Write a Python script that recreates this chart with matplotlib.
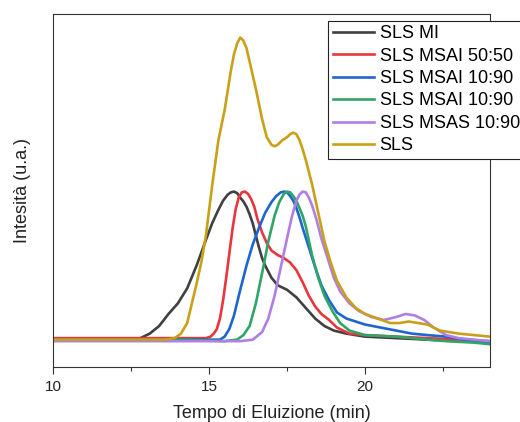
import matplotlib
matplotlib.use('Agg')
import matplotlib.pyplot as plt
from matplotlib.ticker import MultipleLocator, NullLocator

plt.rcParams['font.family'] = ['Liberation Sans', 'DejaVu Sans']

# SLS MI
t_mi = [10, 11, 12, 12.5, 12.8, 13.1, 13.4, 13.7, 14.0, 14.3, 14.6, 14.9, 15.1, 15.3, 15.45, 15.6,
        15.7, 15.8, 15.9, 16.0, 16.1, 16.2, 16.3, 16.4, 16.5, 16.6, 16.7, 16.8, 17.0, 17.2, 17.5,
        17.8, 18.1, 18.4, 18.7, 19.0, 19.4, 20.0, 21, 22, 23, 24]
y_mi = [0.01, 0.01, 0.01, 0.01, 0.02, 0.05, 0.10, 0.18, 0.25, 0.35, 0.50, 0.67, 0.78, 0.87, 0.93, 0.97,
        0.985, 0.99, 0.98, 0.95, 0.925, 0.89, 0.84, 0.78, 0.70, 0.62, 0.55, 0.50, 0.42, 0.37, 0.34,
        0.29, 0.22, 0.15, 0.10, 0.07, 0.05, 0.03, 0.02, 0.01, 0.0, -0.01]

# SLS MSAI 50:50
t_5050 = [10, 11, 12, 13, 14, 14.6, 14.9, 15.05, 15.15, 15.25, 15.35, 15.45, 15.55, 15.65, 15.75,
          15.85, 15.95, 16.05, 16.15, 16.25, 16.35, 16.45, 16.55, 16.7, 16.85, 17.0, 17.2, 17.4, 17.6,
          17.8, 18.0, 18.2, 18.4, 18.6, 18.85, 19.1, 19.5, 20, 21, 22, 23, 24]
y_5050 = [0.02, 0.02, 0.02, 0.02, 0.02, 0.02, 0.02, 0.03, 0.05, 0.08, 0.15, 0.27, 0.42, 0.58, 0.74,
          0.87, 0.95, 0.985, 0.99, 0.975, 0.94, 0.89, 0.81, 0.72, 0.65, 0.60, 0.57, 0.55, 0.52,
          0.47, 0.39, 0.30, 0.23, 0.18, 0.14, 0.09, 0.05, 0.04, 0.03, 0.02, 0.01, 0.0]

# SLS MSAI 10:90 (a)
t_1090a = [10, 12, 14, 15, 15.35, 15.5, 15.65, 15.8, 16.0, 16.2, 16.4, 16.6, 16.8, 17.0, 17.15, 17.3,
           17.4, 17.5, 17.6, 17.7, 17.8, 17.9, 18.0, 18.2, 18.4, 18.6, 18.85, 19.1, 19.4, 19.7, 20.0,
           20.5, 21.0, 21.5, 22.0, 22.6, 23.2, 24]
y_1090a = [0.01, 0.01, 0.01, 0.01, 0.01, 0.03, 0.08, 0.17, 0.34, 0.50, 0.64, 0.75, 0.85, 0.92, 0.96, 0.985,
           0.99, 0.985, 0.96, 0.93, 0.88, 0.82, 0.75, 0.62, 0.49, 0.37, 0.27, 0.19, 0.15, 0.13, 0.11,
           0.09, 0.07, 0.05, 0.04, 0.03, 0.01, -0.01]

# SLS MSAI 10:90 (b)
t_1090b = [10, 12, 14, 15.5, 15.9, 16.1, 16.3, 16.5, 16.7, 16.9, 17.1, 17.25, 17.4, 17.5, 17.6, 17.7,
           17.8, 17.9, 18.0, 18.1, 18.3, 18.5, 18.7, 18.95, 19.2, 19.5, 20.0, 21.0, 22.0, 22.6,
           23.5, 24]
y_1090b = [0.01, 0.01, 0.01, 0.0, 0.01, 0.04, 0.10, 0.25, 0.45, 0.66, 0.83, 0.92, 0.975, 0.99, 0.985, 0.96,
           0.93, 0.88, 0.83, 0.76, 0.57, 0.42, 0.30, 0.20, 0.12, 0.07, 0.04, 0.03, 0.01, 0.0,
           -0.01, -0.02]

# SLS MSAS 10:90
t_msas = [10, 12, 14, 16.0, 16.4, 16.7, 16.9, 17.1, 17.3, 17.5, 17.65, 17.8, 17.9, 18.0, 18.1, 18.2,
          18.3, 18.45, 18.6, 18.8, 19.0, 19.2, 19.5, 19.8, 20.2, 20.6, 21.0, 21.3, 21.6, 21.9, 22.2,
          22.6, 23.0, 24]
y_msas = [0.0, 0.0, 0.0, 0.0, 0.01, 0.06, 0.15, 0.30, 0.49, 0.68, 0.82, 0.93, 0.97, 0.99, 0.985, 0.95,
          0.90, 0.80, 0.68, 0.55, 0.42, 0.33, 0.25, 0.20, 0.16, 0.14, 0.16, 0.18, 0.17, 0.14, 0.09,
          0.04, 0.02, 0.0]

# SLS
t_sls = [10, 12, 13.0, 13.6, 13.9, 14.1, 14.3, 14.45, 14.6, 14.75, 14.9, 15.1, 15.3, 15.5, 15.6, 15.7,
         15.8, 15.9, 16.0, 16.1, 16.2, 16.3, 16.5, 16.7, 16.85, 17.0, 17.1, 17.2, 17.35, 17.5, 17.6,
         17.7, 17.8, 17.9, 18.0, 18.1, 18.3, 18.5, 18.7, 18.9, 19.1, 19.4, 19.7, 20.0, 20.4, 20.8,
         21.1, 21.4, 21.7, 22.0, 22.4, 23.0, 24]
y_sls = [0.01, 0.01, 0.01, 0.01, 0.02, 0.05, 0.12, 0.25, 0.38, 0.52, 0.70, 1.03, 1.33, 1.53, 1.66, 1.79,
         1.90, 1.97, 2.01, 1.99, 1.94, 1.85, 1.67, 1.47, 1.35, 1.30, 1.29, 1.30, 1.33, 1.35, 1.37,
         1.38, 1.37, 1.33, 1.27, 1.20, 1.04, 0.85, 0.66, 0.52, 0.40, 0.29, 0.22, 0.18, 0.15, 0.12,
         0.12, 0.13, 0.12, 0.11, 0.07, 0.05, 0.03]

labels = ['SLS MI', 'SLS MSAI 50:50', 'SLS MSAI 10:90', 'SLS MSAI 10:90', 'SLS MSAS 10:90', 'SLS']
colors = ['#404040', '#e8373c', '#1e66cf', '#2fa568', '#b07fe4', '#c9a018']
series = [(t_mi, y_mi), (t_5050, y_5050), (t_1090a, y_1090a), (t_1090b, y_1090b),
          (t_msas, y_msas), (t_sls, y_sls)]

fig = plt.figure(figsize=(5.2, 4.22), dpi=100)
ax = fig.add_axes([0.102, 0.130, 0.840, 0.837])

for (t, y), c, lab in zip(series, colors, labels):
    ax.plot(t, y, color=c, lw=1.9, label=lab, solid_joinstyle='round')

ax.set_xlim(10, 24)
ax.set_ylim(-0.172, 2.166)
ax.xaxis.set_major_locator(MultipleLocator(5))
ax.xaxis.set_minor_locator(MultipleLocator(2.5))
ax.yaxis.set_major_locator(NullLocator())
ax.tick_params(axis='x', which='major', length=4.8, width=0.8, pad=4.5, labelsize=11, colors='#333333',
               labelcolor='#222222')
ax.tick_params(axis='x', which='minor', length=2.9, width=0.8, colors='#333333')
for s in ax.spines.values():
    s.set_color('#333333')
    s.set_linewidth(0.8)

ax.set_xlabel('Tempo di Eluizione (min)', fontsize=13, color='#222222', labelpad=8)
ax.set_ylabel('Intesità (u.a.)', fontsize=13, color='#222222', labelpad=16)

leg = fig.legend(loc='upper left', bbox_to_anchor=(0.631, 0.951), fontsize=13,
                 frameon=True, fancybox=False, edgecolor='#222222', framealpha=1,
                 borderaxespad=0, handlelength=2.3, handletextpad=0.3, labelspacing=0.3,
                 borderpad=0.25)
leg.get_frame().set_linewidth(0.8)

fig.savefig('out.png', dpi=100)
